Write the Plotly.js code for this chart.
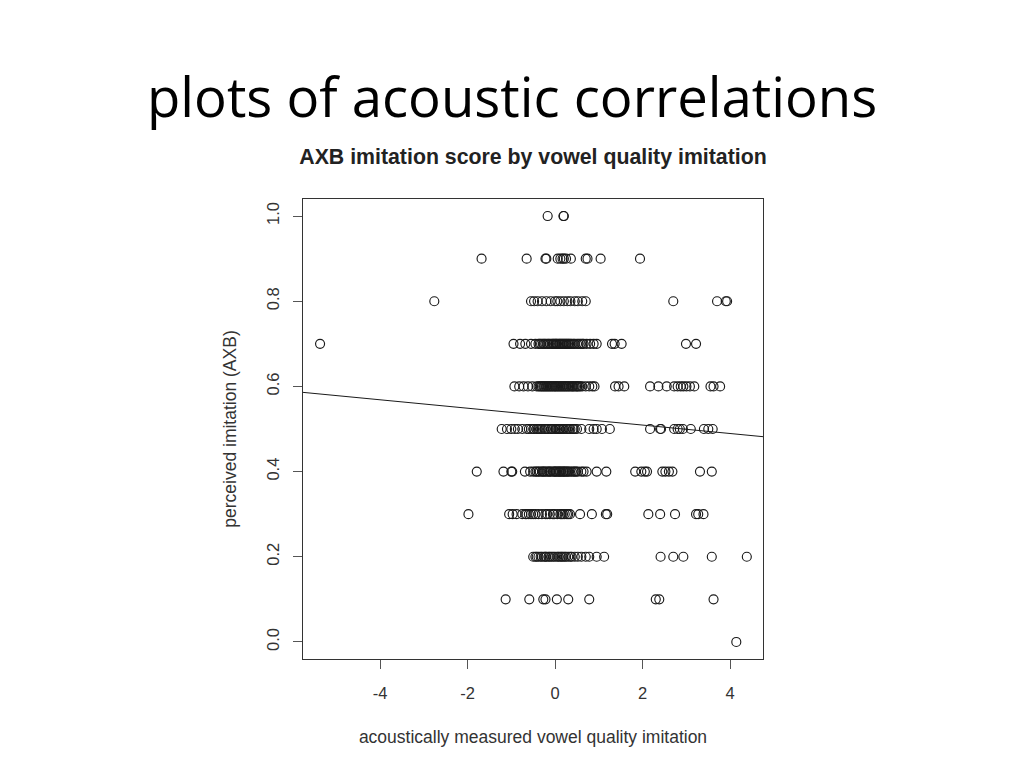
<!DOCTYPE html>
<html>
<head>
<meta charset="utf-8">
<script src="https://cdn.plot.ly/plotly-3.0.1.min.js"></script>
<style>
  html, body { margin: 0; padding: 0; background: #ffffff; }
  #chart { width: 1024px; height: 768px; }
</style>
</head>
<body>
<div id="chart"></div>
<script>
// Perceived imitation (AXB) score levels and the acoustic measure (x) of each point at that level
const score10 = [-0.17, 0.19, 0.2];
const score09 = [-1.68, -0.65, -0.22, -0.2, 0.06, 0.12, 0.17, 0.2, 0.25, 0.36, 0.7, 0.74, 1.04, 1.94];
const score08 = [-2.76, -0.55, -0.48, -0.4, -0.3, -0.2, -0.1, 0.0, 0.05, 0.12, 0.2, 0.28, 0.35, 0.45, 0.52, 0.62, 0.7, 2.70, 3.70, 3.9, 3.93];
const score07 = [-5.37, -0.95, -0.8, -0.68, -0.55, -0.45, -0.38, -0.35, -0.32, -0.28, -0.25, -0.22, -0.18, -0.15, -0.12, -0.08, -0.05, -0.03, 0.0, 0.02, 0.04, 0.07, 0.1, 0.12, 0.15, 0.17, 0.2, 0.22, 0.25, 0.27, 0.3, 0.32, 0.35, 0.38, 0.42, 0.45, 0.5, 0.54, 0.58, 0.62, 0.65, 0.72, 0.8, 0.88, 0.95, 1.3, 1.36, 1.52, 2.99, 3.22];
const score06 = [-0.93, -0.82, -0.72, -0.62, -0.52, -0.42, -0.38, -0.35, -0.32, -0.3, -0.27, -0.25, -0.22, -0.2, -0.17, -0.15, -0.12, -0.1, -0.07, -0.05, -0.02, 0, 0.02, 0.05, 0.07, 0.1, 0.12, 0.15, 0.17, 0.2, 0.22, 0.25, 0.27, 0.3, 0.32, 0.35, 0.38, 0.4, 0.42, 0.45, 0.48, 0.5, 0.52, 0.55, 0.58, 0.62, 0.7, 0.78, 0.85, 0.9, 1.37, 1.45, 1.58, 2.17, 2.36, 2.55, 2.72, 2.8, 2.87, 2.93, 3.0, 3.08, 3.18, 3.55, 3.62, 3.77];
const score05 = [-1.22, -1.1, -1.0, -0.92, -0.85, -0.75, -0.65, -0.6, -0.55, -0.5, -0.48, -0.43, -0.4, -0.37, -0.33, -0.3, -0.25, -0.22, -0.18, -0.15, -0.1, -0.08, -0.05, 0.0, 0.02, 0.05, 0.08, 0.1, 0.12, 0.15, 0.18, 0.2, 0.25, 0.28, 0.32, 0.35, 0.4, 0.42, 0.45, 0.5, 0.6, 0.78, 0.88, 0.95, 1.07, 1.25, 2.17, 2.4, 2.42, 2.72, 2.8, 2.85, 2.92, 3.1, 3.4, 3.5, 3.6];
const score04 = [-1.79, -1.18, -1.0, -0.98, -0.69, -0.57, -0.5, -0.45, -0.42, -0.38, -0.35, -0.3, -0.28, -0.25, -0.22, -0.18, -0.15, -0.12, -0.1, -0.05, -0.02, 0, 0.02, 0.05, 0.08, 0.1, 0.12, 0.15, 0.18, 0.2, 0.22, 0.25, 0.28, 0.3, 0.34, 0.38, 0.42, 0.45, 0.48, 0.52, 0.6, 0.65, 0.72, 0.95, 1.17, 1.83, 1.97, 2.05, 2.1, 2.45, 2.52, 2.6, 2.68, 3.31, 3.58];
const score03 = [-1.98, -1.05, -0.97, -0.88, -0.75, -0.68, -0.65, -0.6, -0.55, -0.5, -0.45, -0.38, -0.3, -0.22, -0.18, -0.12, -0.05, -0.02, 0.05, 0.12, 0.15, 0.18, 0.22, 0.27, 0.3, 0.34, 0.57, 0.84, 1.16, 1.19, 2.13, 2.4, 2.74, 3.22, 3.27, 3.39];
const score02 = [-0.5, -0.45, -0.42, -0.38, -0.33, -0.3, -0.25, -0.22, -0.2, -0.15, -0.12, -0.08, -0.04, 0, 0.05, 0.08, 0.12, 0.15, 0.18, 0.22, 0.25, 0.3, 0.35, 0.38, 0.45, 0.52, 0.6, 0.7, 0.78, 0.95, 1.12, 2.41, 2.7, 2.93, 3.58, 4.38];
const score01 = [-1.13, -0.59, -0.27, -0.22, 0.04, 0.3, 0.78, 2.3, 2.38, 3.62];
const score00 = [4.14];

const scoreLevels = [1.0, 0.9, 0.8, 0.7, 0.6, 0.5, 0.4, 0.3, 0.2, 0.1, 0.0];
const scoreGroups = [score10, score09, score08, score07, score06, score05, score04, score03, score02, score01, score00];

// Fitted regression line
const fitIntercept = 0.529;
const fitSlope = -0.0099;

const xTickVals = [-4, -2, 0, 2, 4];
const yTickVals = [0.0, 0.2, 0.4, 0.6, 0.8, 1.0];

const xRange = [-5.76, 4.75];
const yRange = [-0.04, 1.04];

const xs = [], ys = [];
scoreGroups.forEach((g, i) => {
  g.forEach(v => { xs.push(v); ys.push(scoreLevels[i]); });
});

const traces = [
  {
    type: 'scatter', mode: 'markers', x: xs, y: ys,
    marker: { symbol: 'circle-open', size: 9, color: '#1a1a1a', line: { width: 1.15, color: '#1a1a1a' } },
    hoverinfo: 'x+y', showlegend: false
  },
  {
    type: 'scatter', mode: 'lines',
    x: xRange, y: xRange.map(v => fitIntercept + fitSlope * v),
    line: { color: '#1a1a1a', width: 1 },
    hoverinfo: 'skip', showlegend: false
  }
];

const tickFont = { family: 'Liberation Sans, Arial, sans-serif', size: 16.5, color: '#333333' };
const labelFont = { family: 'Liberation Sans, Arial, sans-serif', size: 17.5, color: '#333333' };

const layout = {
  width: 1024, height: 768,
  paper_bgcolor: '#ffffff', plot_bgcolor: '#ffffff',
  margin: { l: 303, r: 261, t: 199, b: 109 },
  showlegend: false,
  title: {
    text: '<b>AXB imitation score by vowel quality imitation</b>',
    font: { family: 'Liberation Sans, Arial, sans-serif', size: 21.3, color: '#222222' },
    x: 0.5, xref: 'paper', xanchor: 'center',
    y: 1 - 157 / 768, yref: 'container', yanchor: 'middle'
  },
  xaxis: {
    range: xRange, tickvals: xTickVals, ticktext: xTickVals.map(String),
    showgrid: false, zeroline: false,
    showline: true, mirror: true, linecolor: '#333333', linewidth: 1,
    ticks: 'outside', ticklen: 9, tickwidth: 1, tickcolor: '#555555',
    ticklabelstandoff: 10,
    tickfont: tickFont,
    title: { text: 'acoustically measured vowel quality imitation', font: labelFont, standoff: 29 }
  },
  yaxis: {
    range: yRange, tickvals: yTickVals, ticktext: yTickVals.map(v => v.toFixed(1)),
    tickangle: -90,
    showgrid: false, zeroline: false,
    showline: true, mirror: true, linecolor: '#333333', linewidth: 1,
    ticks: 'outside', ticklen: 9, tickwidth: 1, tickcolor: '#555555',
    ticklabelstandoff: 7,
    tickfont: tickFont,
    title: { text: 'perceived imitation (AXB)', font: labelFont, standoff: 23 }
  },
  annotations: [
    {
      text: 'plots of acoustic correlations',
      xref: 'paper', yref: 'paper', x: (512 - 303) / 460, y: 1 + (199 - 96) / 460,
      xanchor: 'center', yanchor: 'middle', showarrow: false,
      font: { family: 'Open Sans, sans-serif', size: 54.5, color: '#000000' }
    }
  ]
};

Plotly.newPlot('chart', traces, layout, { displayModeBar: false, staticPlot: true });
</script>
</body>
</html>
